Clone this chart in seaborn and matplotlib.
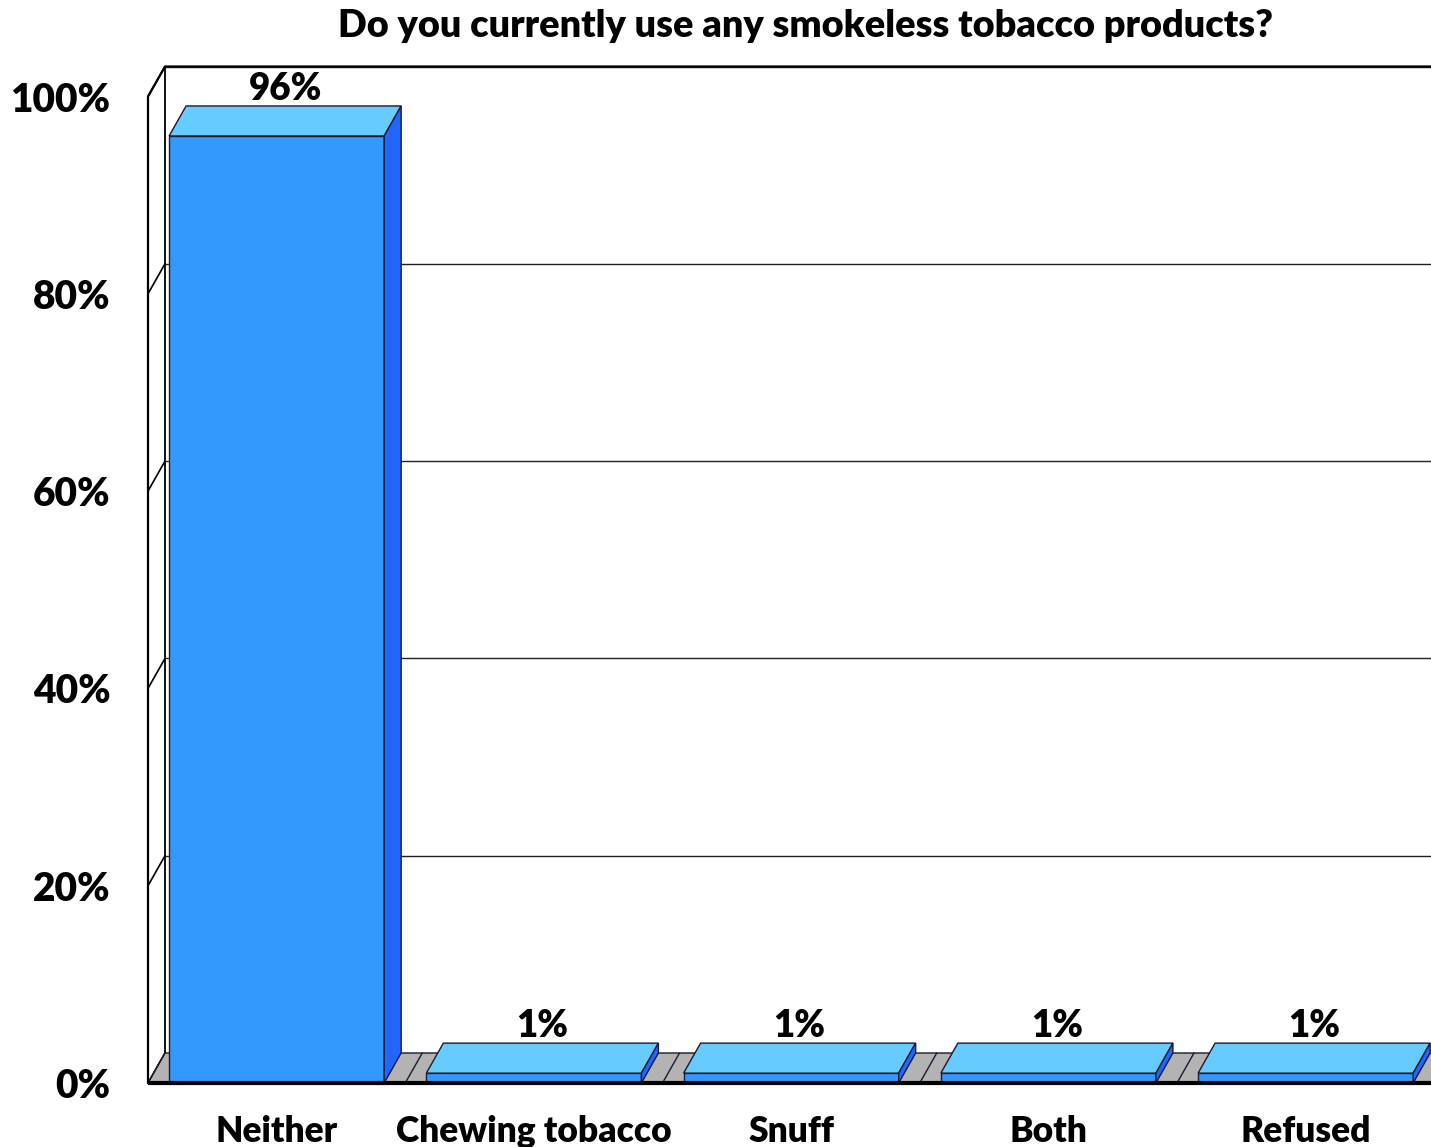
import matplotlib
matplotlib.use("Agg")
import matplotlib.pyplot as plt
import seaborn as sns
import pandas as pd
from matplotlib.patches import Polygon

categories = ["Neither", "Chewing tobacco", "Snuff", "Both", "Refused"]
values = [96, 1, 1, 1, 1]
value_labels = ["96%", "1%", "1%", "1%", "1%"]
y_ticks = [0, 20, 40, 60, 80, 100]
y_tick_labels = ["0%", "20%", "40%", "60%", "80%", "100%"]
title = "Do you currently use any smokeless tobacco products?"

FRONT = "#3399FF"
TOP = "#66CCFF"
SIDE = "#2266FF"
FLOOR = "#B3B3B3"
EDGE = "#1A1A33"

W, H = 1431, 1147
sns.set_theme(style="white")
plt.rcParams["font.family"] = ["Lato", "DejaVu Sans"]

fig = plt.figure(figsize=(W / 100, H / 100), dpi=100)
left_px, right_px, bottom_px, top_px = 148, 1431, 1083, 60
ax = fig.add_axes([left_px / W, (H - bottom_px) / H,
                   (right_px - left_px) / W, (bottom_px - top_px) / H])
px_per_cat = 257.25
px_per_pct = 9.865
xmin = -0.5
xmax = xmin + (right_px - left_px) / px_per_cat
ymax = (bottom_px - top_px) / px_per_pct
dx = 17 / px_per_cat
dy = 30 / px_per_pct

df = pd.DataFrame({"category": categories, "value": values})
sns.barplot(data=df, x="category", y="value", color=FRONT, saturation=1,
            width=0.836, edgecolor=EDGE, linewidth=1, ax=ax, zorder=5)
bars = list(ax.patches)

# back wall grid lines and border
for v in y_ticks[1:]:
    ax.plot([xmin + dx, xmax + 1], [v + dy, v + dy], color="#222222", lw=1.0, zorder=1)
ax.plot([xmin + dx, xmin + dx], [dy, 100 + dy], color="black", lw=1.3, zorder=1)

# left wall ticks
for v in y_ticks:
    ax.plot([xmin, xmin + dx], [v, v + dy], color="black", lw=1.2, zorder=1, clip_on=False)

# floor
floor = Polygon([(xmin, 0), (xmax + 1, 0), (xmax + 1 + dx, dy), (xmin + dx, dy)],
                closed=True, facecolor=FLOOR, edgecolor=EDGE, lw=1, zorder=2)
ax.add_patch(floor)
for k in range(len(categories) + 1):
    xb = k - 0.5
    ax.plot([xb, xb + dx], [0, dy], color=EDGE, lw=1, zorder=3)

# 3D faces of bars
for bar, lab in zip(bars, value_labels):
    x0 = bar.get_x()
    w = bar.get_width()
    h = bar.get_height()
    x1 = x0 + w
    top = Polygon([(x0, h), (x1, h), (x1 + dx, h + dy), (x0 + dx, h + dy)],
                  closed=True, facecolor=TOP, edgecolor=EDGE, lw=1, zorder=6)
    side = Polygon([(x1, 0), (x1 + dx, dy), (x1 + dx, h + dy), (x1, h)],
                   closed=True, facecolor=SIDE, edgecolor=EDGE, lw=1, zorder=6)
    ax.add_patch(top)
    ax.add_patch(side)
    ax.text(x0 + w / 2 + dx / 2, h + dy + 0.6, lab, ha="center", va="baseline",
            fontsize=26.5, fontweight="heavy", color="black", zorder=8)

# front axis lines
ax.plot([xmin, xmin, xmin + dx, xmax + 1], [0, 100, 100 + dy, 100 + dy],
        color="black", lw=1.6, zorder=10, clip_on=False)
ax.plot([xmin, xmax], [0, 0], color="black", lw=3, zorder=10,
        solid_capstyle="butt", clip_on=False)

ax.set_xlim(xmin, xmax)
ax.set_ylim(0, ymax)
ax.set_yticks(y_ticks)
ax.set_yticklabels(y_tick_labels)
ax.set_xlabel("")
ax.set_ylabel("")
for s in ax.spines.values():
    s.set_visible(False)
ax.tick_params(axis="both", length=0)
ax.tick_params(axis="y", pad=27)
ax.tick_params(axis="x", pad=23)
for t in ax.get_xticklabels():
    t.set_fontsize(25.5)
    t.set_fontweight("heavy")
    t.set_color("black")
for t in ax.get_yticklabels():
    t.set_fontsize(28)
    t.set_fontweight("heavy")
    t.set_color("black")

fig.text(805 / W, 1 - 26 / H, title, ha="center", va="center",
         fontsize=27.3, fontweight="heavy", color="black")

fig.savefig("out.png", dpi=100, facecolor="white")
